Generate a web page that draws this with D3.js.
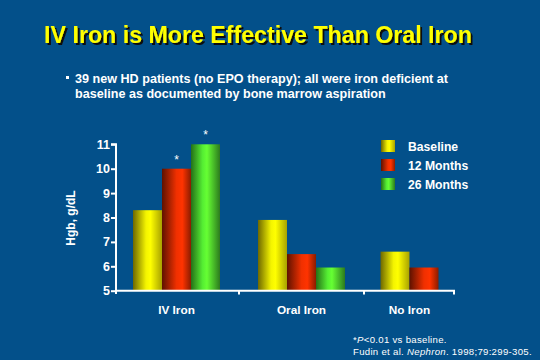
<!DOCTYPE html>
<html><head><meta charset="utf-8">
<script src="https://cdn.jsdelivr.net/npm/d3@7"></script>
<style>html,body{margin:0;padding:0;background:#03508a;}svg{display:block;}</style>
</head><body>
<script>
const categories = ["IV Iron", "Oral Iron", "No Iron"];
const seriesNames = ["Baseline", "12 Months", "26 Months"];
const baseline = [8.3, 7.9, 6.6];
const months12 = [10.0, 6.5, 5.95];
const months26 = [11.0, 5.95, null];
const significant = [[false, true, true], [false, false, false], [false, false, false]];
const yTicks = [5, 6, 7, 8, 9, 10, 11];

const FONT = "Liberation Sans, Arial, sans-serif";
const W = 540, H = 360;
const svg = d3.select("body").append("svg").attr("width", W).attr("height", H);
svg.append("rect").attr("width", W).attr("height", H).attr("fill", "#03508a");

const defs = svg.append("defs");
const grads = [
  ["gY", [["0%","#6e6800"],["45%","#f4f400"],["60%","#ffff00"],["100%","#a8a200"]]],
  ["gR", [["0%","#5e1200"],["50%","#f03000"],["70%","#ff3300"],["100%","#8a1c00"]]],
  ["gG", [["0%","#257018"],["40%","#55ee33"],["55%","#66ff33"],["100%","#2c7a1e"]]]
];
grads.forEach(([id, stops]) => {
  const g = defs.append("linearGradient").attr("id", id).attr("x1","0%").attr("x2","100%").attr("y1","0%").attr("y2","0%");
  stops.forEach(s => g.append("stop").attr("offset", s[0]).attr("stop-color", s[1]));
});
const fills = ["url(#gY)", "url(#gR)", "url(#gG)"];
const shadow = defs.append("filter").attr("id","shadow").attr("x","-5%").attr("y","-20%").attr("width","110%").attr("height","150%");
shadow.append("feDropShadow").attr("dx",2).attr("dy",2).attr("stdDeviation",0).attr("flood-color","#111").attr("flood-opacity",1);

// Title
svg.append("text").attr("x", 258).attr("y", 43).attr("text-anchor","middle")
  .attr("font-family",FONT).attr("font-weight","bold").attr("font-size",23.2)
  .attr("fill","#ffff00").attr("filter","url(#shadow)").text("IV Iron is More Effective Than Oral Iron");

// Bullet
svg.append("rect").attr("x", 66).attr("y", 76).attr("width", 3).attr("height", 3).attr("fill", "#fff");
const bullet = svg.append("text").attr("font-family",FONT).attr("font-weight","bold")
  .attr("font-size",12.6).attr("fill","#fff");
bullet.append("tspan").attr("x", 75).attr("y", 83).text("39 new HD patients (no EPO therapy); all were iron deficient at");
bullet.append("tspan").attr("x", 75).attr("y", 98).text("baseline as documented by bone marrow aspiration");

// Scales
const y = d3.scaleLinear().domain([5, 11]).range([290.7, 144.3]);
const x0 = d3.scaleBand().domain(categories).range([114, 489]);
const x1 = d3.scaleBand().domain(seriesNames).range([0, 87]);
const values = [baseline, months12, months26];

const g = svg.append("g");
categories.forEach((c, ci) => {
  const gx = x0(c) + x0.bandwidth() / 2 - 43.5 - (ci === 2 ? 2.5 : 0);
  seriesNames.forEach((s, si) => {
    const v = values[si][ci];
    if (v == null) return;
    g.append("rect").attr("x", gx + x1(s)).attr("width", x1.bandwidth())
      .attr("y", y(v)).attr("height", y(5) - y(v)).attr("fill", fills[si]);
    if (significant[ci][si]) {
      g.append("text").attr("x", gx + x1(s) + x1.bandwidth()/2).attr("y", y(v) - 5)
        .attr("text-anchor","middle").attr("font-family",FONT)
        .attr("font-size", 12).attr("fill","#fff").text("*");
    }
  });
  const n = seriesNames.filter((s, si) => values[si][ci] != null).length;
  const cx = gx + n * x1.bandwidth() / 2;
  svg.append("text").attr("x", cx).attr("y", 314).attr("text-anchor","middle")
    .attr("font-family",FONT).attr("font-weight","bold").attr("font-size",11.8)
    .attr("fill","#fff").text(c);
});

// Y axis
const yAxis = d3.axisLeft(y).tickValues(yTicks).tickSize(5).tickFormat(d3.format("d"));
const ya = svg.append("g").attr("transform","translate(116,0)").call(yAxis);
ya.select(".domain").attr("stroke","#fff").attr("stroke-width",2).attr("d","M-5,144.3H0V294");
ya.selectAll(".tick line").attr("stroke","#fff").attr("stroke-width",2);
ya.selectAll(".tick text").attr("fill","#fff").attr("font-family",FONT)
  .attr("font-weight","bold").attr("font-size",12.5).attr("x",-6);

// X axis line with boundary ticks
const xa = svg.append("g");
xa.append("line").attr("x1",115).attr("x2",455).attr("y1",290.7).attr("y2",290.7).attr("stroke","#fff").attr("stroke-width",2);
const bounds = [x0("Oral Iron"), x0("No Iron"), 454];
bounds.forEach(b => xa.append("line").attr("x1",b).attr("x2",b).attr("y1",290).attr("y2",294.5).attr("stroke","#fff").attr("stroke-width",2));

// Y label
svg.append("text").attr("transform","translate(75,218) rotate(-90)").attr("text-anchor","middle")
  .attr("font-family",FONT).attr("font-weight","bold").attr("font-size",12)
  .attr("fill","#fff").text("Hgb, g/dL");

// Legend
const lg = svg.append("g");
seriesNames.forEach((s, i) => {
  const ly = 140 + i * 19;
  lg.append("rect").attr("x", 381).attr("y", ly).attr("width", 14).attr("height", 12).attr("fill", fills[i]);
  lg.append("text").attr("x", 408).attr("y", ly + 10.5).attr("font-family",FONT)
    .attr("font-weight","bold").attr("font-size",12.2).attr("fill","#fff").text(s);
});

// Footnote
const fn = svg.append("g").attr("font-family",FONT).attr("font-size",9.6).attr("letter-spacing",0.3).attr("fill","#fff");
const f1 = fn.append("text").attr("x", 353).attr("y", 343);
f1.append("tspan").text("*");
f1.append("tspan").attr("font-style","italic").text("P");
f1.append("tspan").text("<0.01 vs baseline.");
const f2 = fn.append("text").attr("x", 353).attr("y", 355);
f2.append("tspan").text("Fudin et al. ");
f2.append("tspan").attr("font-style","italic").text("Nephron");
f2.append("tspan").text(". 1998;79:299-305.");
</script>
</body></html>
